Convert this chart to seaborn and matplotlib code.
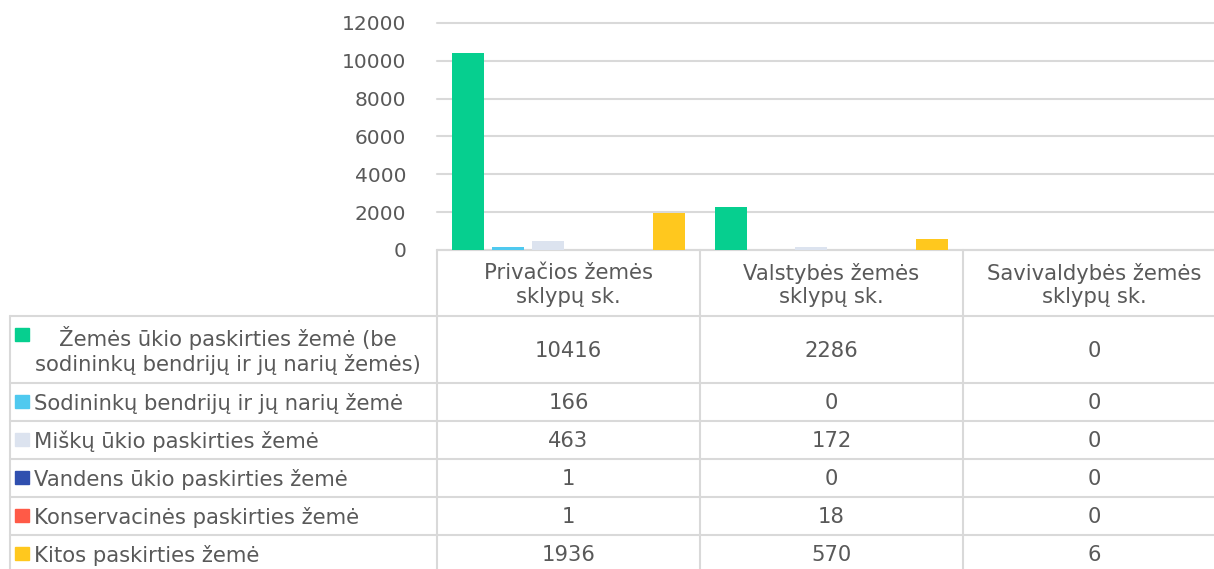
import matplotlib
matplotlib.use("Agg")
import matplotlib.pyplot as plt
import seaborn as sns
import pandas as pd

# data
categories = ["Privačios žemės\nsklypų sk.", "Valstybės žemės\nsklypų sk.", "Savivaldybės žemės\nsklypų sk."]
series = [
    "Žemės ūkio paskirties žemė (be\nsodininkų bendrijų ir jų narių žemės)",
    "Sodininkų bendrijų ir jų narių žemė",
    "Miškų ūkio paskirties žemė",
    "Vandens ūkio paskirties žemė",
    "Konservacinės paskirties žemė",
    "Kitos paskirties žemė",
]
zemes_ukio = [10416, 2286, 0]
sodininku = [166, 0, 0]
misku = [463, 172, 0]
vandens = [1, 0, 0]
konservacines = [1, 18, 0]
kitos = [1936, 570, 6]
colors = ["#06CF8F", "#4FC9EF", "#DCE3EF", "#2F4FAF", "#FF5A47", "#FFC81E"]
yticks = [0, 2000, 4000, 6000, 8000, 10000, 12000]

values = [zemes_ukio, sodininku, misku, vandens, konservacines, kitos]
rows = []
for s, vals in zip(series, values):
    for c, v in zip(categories, vals):
        rows.append({"cat": c, "series": s, "val": v})
df = pd.DataFrame(rows)

W, H = 1214, 569
sns.set_style("white")
plt.rcParams["font.family"] = ["DejaVu Sans"]
txt = "#595959"
grid = "#D9D9D9"
fs_tick = 14.5
fs = 15.2

fig = plt.figure(figsize=(W / 100, H / 100), dpi=100)

# table / legend layer in pixel coordinates
tab = fig.add_axes([0, 0, 1, 1])
tab.set_xlim(0, W)
tab.set_ylim(H, 0)
tab.axis("off")

# bar plot
x0, x1 = 437, 437 + 3 * 263
y_top, y_bot = 23, 250
ax = fig.add_axes([x0 / W, 1 - y_bot / H, (x1 - x0) / W, (y_bot - y_top) / H])
sns.barplot(data=df, x="cat", y="val", hue="series", palette=colors,
            width=0.913, gap=0.2, legend=False, ax=ax, saturation=1,
            linewidth=0, zorder=3)
ax.set_xlim(-0.5, 2.5)
ax.set_ylim(0, 12000)
ax.set_yticks(yticks)
ax.set_yticklabels([str(t) for t in yticks], color=txt, fontsize=fs_tick)
ax.tick_params(axis="y", length=0, pad=22)
ax.set_xticks([])
ax.set_xlabel("")
ax.set_ylabel("")
ax.yaxis.grid(True, color=grid, linewidth=1.5, zorder=0)
for gl in ax.get_ygridlines():
    gl.set_clip_on(False)
ax.set_axisbelow(True)
for sp in ax.spines.values():
    sp.set_visible(False)
ax.patch.set_alpha(0)

# table grid
col_x = [437, 700, 963, 1226]
row_y = [316, 383, 421, 459, 497, 535, 573]
lw = 1.5
tab.plot([437, W], [250, 250], color=grid, lw=lw)
for x in col_x[:3]:
    tab.plot([x, x], [250, H], color=grid, lw=lw)
tab.plot([10, 10], [316, H], color=grid, lw=lw)
for y in row_y[:-1]:
    tab.plot([10, W], [y, y], color=grid, lw=lw)

# header row
for i, c in enumerate(categories):
    cx = (col_x[i] + col_x[i + 1]) / 2
    tab.text(cx, 285, c, ha="center", va="center", color=txt, fontsize=fs,
             linespacing=1.2)

# series rows
for r, (s, vals, col) in enumerate(zip(series, values, colors)):
    top, bot = row_y[r], row_y[r + 1]
    cy = (top + bot) / 2
    if r == 0:
        tab.add_patch(plt.Rectangle((15, 328), 14, 13, color=col))
        tab.text(228, cy + 1, s, ha="center", va="center", color=txt,
                 fontsize=fs, linespacing=1.2)
    else:
        tab.add_patch(plt.Rectangle((15, cy - 7), 14, 13, color=col))
        tab.text(34, cy + 1, s, ha="left", va="center", color=txt, fontsize=fs)
    for i, v in enumerate(vals):
        cx = (col_x[i] + col_x[i + 1]) / 2
        tab.text(cx, cy + 1, str(v), ha="center", va="center", color=txt, fontsize=fs)

fig.savefig("out.png", dpi=100)
